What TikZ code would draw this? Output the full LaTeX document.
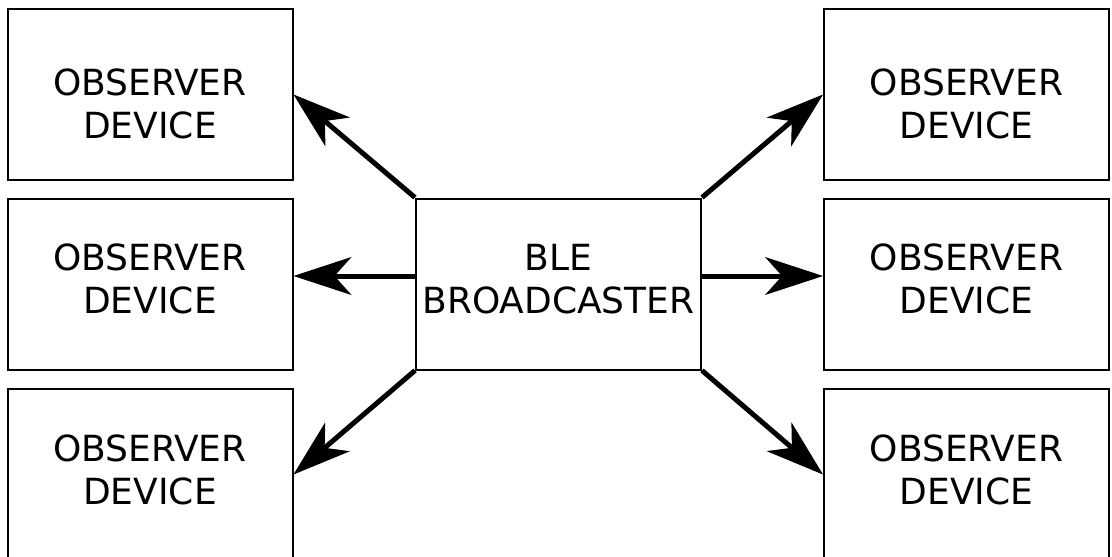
\documentclass[tikz,border=0pt]{standalone}
\usepackage{fontspec}
\setmainfont{DejaVu Sans}
\usetikzlibrary{arrows.meta}

\begin{document}
\begin{tikzpicture}[x=1pt,y=1pt,
                box/.style={draw=black,line width=2pt,minimum width=285pt,minimum height=171pt},
                txt/.style={align=center,font=\fontsize{36}{43}\selectfont},
                link/.style={line width=5pt,-{Stealth[length=58pt,width=38pt,inset=17pt,fill=black,line width=1pt]}}]
                \tikzstyle{every node}+=[inner sep=0pt]
                \useasboundingbox (0,0) rectangle (1112,-557);
                \node[box,label={[txt,yshift=5pt]center:{BLE\\BROADCASTER}}] (hub) at (558.5,-284) {};
                \node[box,label={[txt,yshift=-9.5pt]center:{OBSERVER\\DEVICE}}] (obsL1) at (150,-94.5) {};
                \node[box,label={[txt,yshift=5pt]center:{OBSERVER\\DEVICE}}] (obsL2) at (150,-284) {};
                \node[box,label={[txt,yshift=4.5pt]center:{OBSERVER\\DEVICE}}] (obsL3) at (150,-474.5) {};
                \node[box,label={[txt,yshift=-9.5pt]center:{OBSERVER\\DEVICE}}] (obsR1) at (966.5,-94.5) {};
                \node[box,label={[txt,yshift=5pt]center:{OBSERVER\\DEVICE}}] (obsR2) at (966.5,-284) {};
                \node[box,label={[txt,yshift=4.5pt]center:{OBSERVER\\DEVICE}}] (obsR3) at (966.5,-474.5) {};
                \draw [link] (hub.north west) -- (obsL1.east);
                \draw [link] ([yshift=8pt]hub.west) -- ([yshift=8pt]obsL2.east);
                \draw [link] (hub.south west) -- (obsL3.east);
                \draw [link] (hub.north east) -- (obsR1.west);
                \draw [link] ([yshift=8pt]hub.east) -- ([yshift=8pt]obsR2.west);
                \draw [link] (hub.south east) -- (obsR3.west);
            \end{tikzpicture}
\end{document}
